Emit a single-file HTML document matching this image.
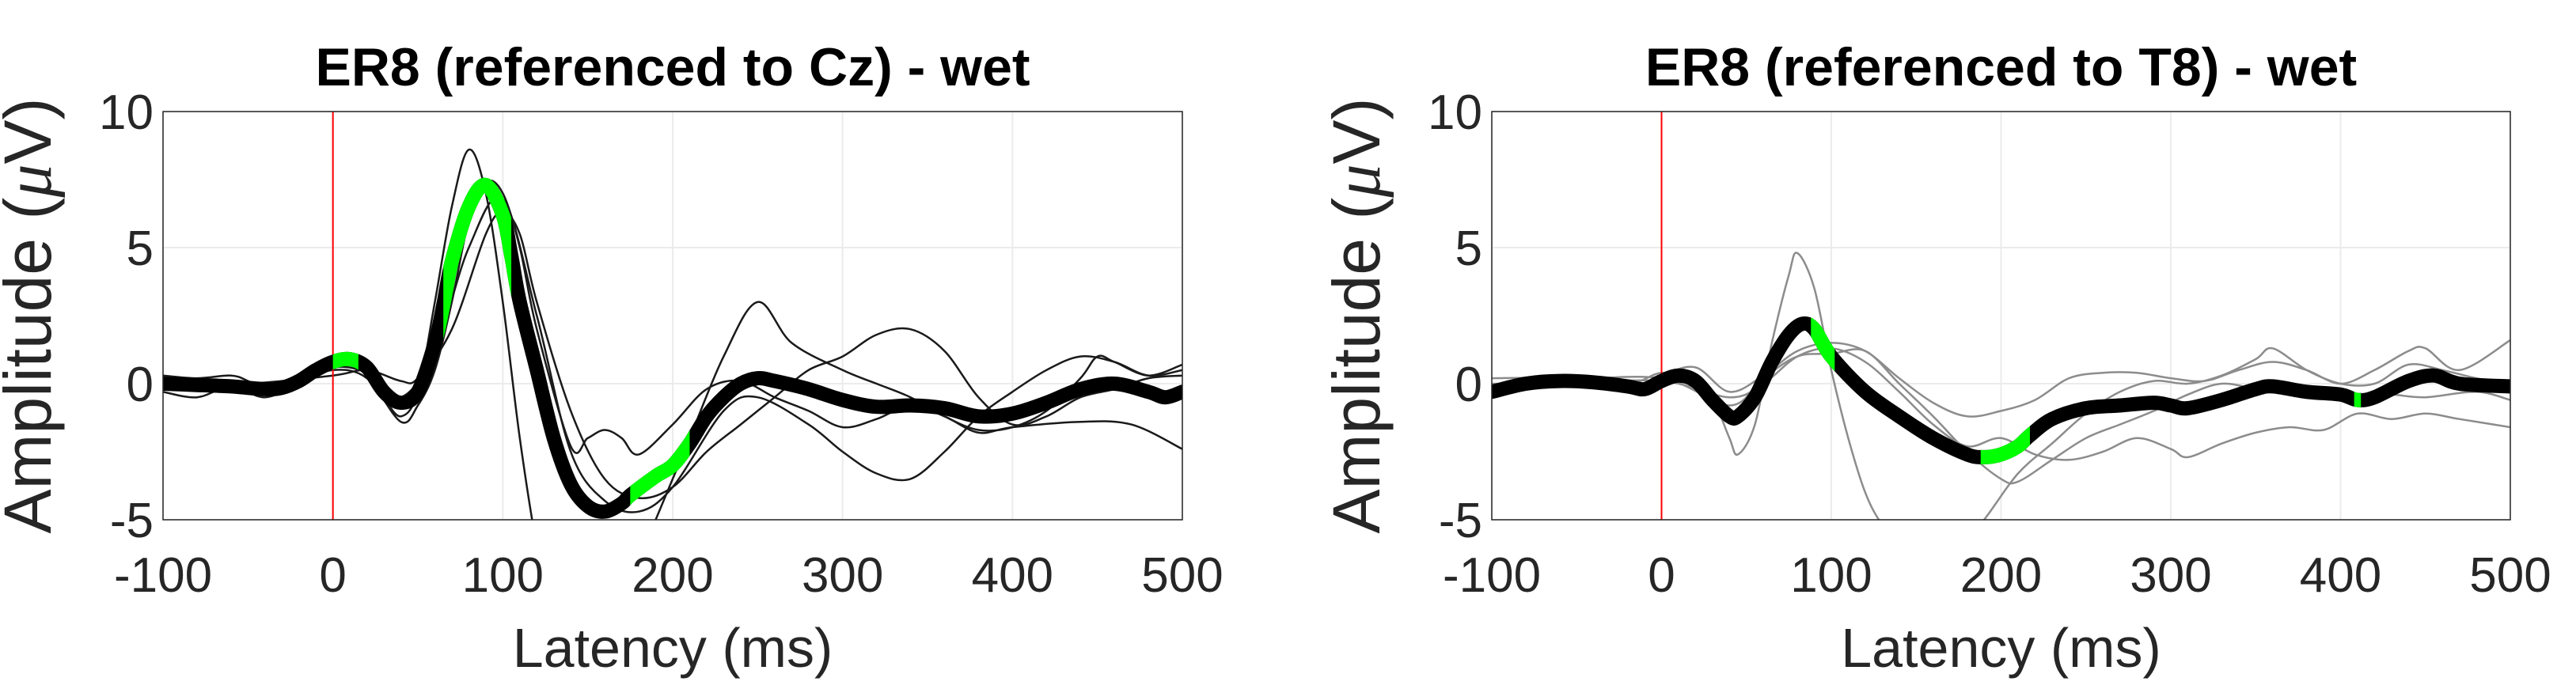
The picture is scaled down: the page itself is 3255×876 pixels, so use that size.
<!DOCTYPE html>
<html><head><meta charset="utf-8"><style>
html,body{margin:0;padding:0;background:#fff}
svg{display:block;font-family:"Liberation Sans",Arial,sans-serif}
</style></head><body>
<svg id="fig" width="3255" height="876" viewBox="0 0 3255 876"></svg>
<script>
// ---- data ----
const xTicks = [-100,0,100,200,300,400,500];
const yTicks = [-5,0,5,10];
const xTickLabels = ["-100","0","100","200","300","400","500"];
const yTickLabels = ["-5","0","5","10"];
// left panel (Cz)
const czMeanX = [-100,-80,-60,-40,-30,-20,-10,0,10,20,30,40,50,60,65,70,80,90,100,105,110,120,130,140,150,160,170,175,190,200,210,220,230,240,250,260,280,300,320,340,360,380,400,420,440,460,480,490,500];
const czMeanY = [0,-0.05,-0.1,-0.2,-0.15,0.1,0.5,0.8,0.9,0.6,-0.3,-0.7,-0.3,1.5,2.9,4.5,6.5,7.3,6.2,4.7,3.0,0.5,-2,-3.7,-4.5,-4.7,-4.4,-4.1,-3.4,-3,-2.2,-1.2,-0.5,0,0.2,0.1,-0.2,-0.6,-0.85,-0.8,-0.9,-1.2,-1.1,-0.7,-0.2,0,-0.3,-0.5,-0.3];
const czGreen = [[0,15],[65,105],[175,210]];
const czT1X = [-100,-80,-60,-50,-40,-20,0,10,20,30,40,50,60,70,80,90,100,110,120,130,150,170,190,210,230,250,270,300,320,340,360,380,400,420,440,450,460,480,500];
const czT1Y = [0.3,0.2,0.3,0.1,-0.2,0,0.7,1,0.6,-0.5,-1.2,-0.3,3,6.5,8.6,7,3,-2,-6,-9,-10,-8,-5,-2,1,3,1.5,0.5,0,-0.5,-1.2,-1.7,-1.6,-1,0.2,1,0.8,0.3,0.7];
const czT2X = [-100,-80,-60,-40,-20,0,20,40,50,60,70,80,90,100,110,120,140,150,160,170,180,200,220,240,260,280,300,320,340,360,380,400,440,470,500];
const czT2Y = [-0.3,-0.5,-0.1,-0.5,0,0.5,0.2,-1.4,-0.8,0.5,3,6,7.4,7,5,2,-2.3,-2,-1.7,-2,-2.6,-1.5,-0.2,0.1,-0.5,-1.0,-1.6,-1.3,-0.8,-1.2,-1.8,-1.6,-1.4,-1.5,-2.4];
const czT3X = [-100,-50,0,20,40,50,70,90,100,110,120,140,160,180,200,220,240,260,280,300,320,340,360,380,400,420,440,460,480,500];
const czT3Y = [0,0,0.3,0.5,0.1,0.2,2,5.5,6.3,5.5,3,-1,-3.5,-4.2,-3.8,-2.5,-1.5,-0.5,0.5,1,1.8,2,1.2,-0.5,-1.5,-1.2,-0.5,-0.2,0.2,0.3];
const czT4X = [-100,-60,-20,0,20,40,60,80,100,120,140,160,180,200,230,250,280,300,320,340,360,380,400,420,440,460,480,500];
const czT4Y = [0.1,-0.1,0,0.6,0.4,-0.5,1.2,5,6.8,2.5,-2.5,-4.3,-4.7,-3.8,-1,-0.5,-1.5,-2.5,-3.3,-3.5,-2.5,-1.2,-0.3,0.5,1,0.8,0.3,0.5];
// right panel (T8)
const t8MeanX = [-100,-80,-60,-40,-20,-10,0,10,20,30,40,45,55,65,75,83,90,100,120,140,160,180,190,200,210,217,230,250,270,290,300,310,330,350,360,380,400,410,420,440,455,470,500];
const t8MeanY = [-0.3,0,0.1,0.05,-0.1,-0.2,0.1,0.3,0.1,-0.6,-1.2,-1.2,-0.5,0.8,1.8,2.2,2.0,1.0,-0.3,-1.2,-2,-2.6,-2.7,-2.6,-2.3,-1.9,-1.3,-0.9,-0.8,-0.7,-0.8,-0.9,-0.6,-0.2,-0.1,-0.3,-0.4,-0.6,-0.5,0.1,0.3,0,-0.1];
const t8Green = [[88,102],[188,217],[408,412]];
const t8T1X = [-100,-60,-20,0,20,30,40,45,55,65,75,80,90,100,110,120,130,150,170,190,210,230,250,270,290,310,330,350,360,380,400,420,440,460,480,500];
const t8T1Y = [0.2,0.2,0,0.4,0.2,-0.5,-2,-2.6,-1.5,1.5,4,4.8,3.5,0.5,-2,-4,-5.2,-7,-6.5,-5,-3.3,-2.2,-1.1,-0.3,0.1,0,0.3,0.9,1.3,0.5,0,0,0.7,0.5,0.2,0];
const t8T2X = [-100,-60,-20,0,20,40,60,80,100,120,140,160,180,200,220,240,260,280,300,320,340,360,380,400,420,440,450,470,500];
const t8T2Y = [-0.5,0,-0.2,0.3,0.6,-0.3,0.3,1.2,1.5,1.2,0.2,-0.7,-1.2,-1.0,-0.6,0.2,0.4,0.4,0.2,0.1,0.5,0.8,0.5,0,0.5,1.2,1.3,0.5,1.6];
const t8T3X = [-100,-60,0,40,60,80,100,120,140,160,180,200,220,240,260,280,300,310,330,350,370,390,410,430,450,470,500];
const t8T3Y = [0,0,0.1,-0.5,0,1.0,1.3,0.8,-0.3,-1.5,-2.3,-2.0,-2.6,-2.8,-2.5,-2.0,-2.4,-2.7,-2.2,-1.8,-1.6,-1.7,-1.1,-1.3,-1.1,-1.3,-1.6];
const t8T4X = [-100,-60,0,40,60,80,100,120,140,160,180,200,210,230,250,270,290,310,330,350,370,390,410,430,450,480,500];
const t8T4Y = [-0.1,0.1,0.2,-0.8,0.2,1.0,1.1,1.2,0,-1.2,-2.5,-3.5,-3.6,-2.8,-2.0,-1.5,-1.0,-0.4,0,-0.2,-0.4,-0.5,-0.4,-0.4,-0.5,-0.3,-0.6];

const NS = "http://www.w3.org/2000/svg";
const svg = document.getElementById('fig');
function mk(tag, attrs, parent){
  const e = document.createElementNS(NS, tag);
  for (const k in attrs) e.setAttribute(k, attrs[k]);
  (parent||svg).appendChild(e);
  return e;
}
function smoothPath(pts){
  let d = "M"+pts[0][0].toFixed(1)+","+pts[0][1].toFixed(1);
  for (let i=0;i<pts.length-1;i++){
    const p0=pts[Math.max(0,i-1)], p1=pts[i], p2=pts[i+1], p3=pts[Math.min(pts.length-1,i+2)];
    const c1x=p1[0]+(p2[0]-p0[0])/6, c1y=p1[1]+(p2[1]-p0[1])/6;
    const c2x=p2[0]-(p3[0]-p1[0])/6, c2y=p2[1]-(p3[1]-p1[1])/6;
    d += "C"+c1x.toFixed(1)+","+c1y.toFixed(1)+" "+c2x.toFixed(1)+","+c2y.toFixed(1)+" "+p2[0].toFixed(1)+","+p2[1].toFixed(1);
  }
  return d;
}
function panel(id, L, R, title, meanX, meanY, green, thin, thinColor){
  const T = 141, B = 657;
  const sx = v => L + (v + 100) / 600 * (R - L);
  const sy = v => T + (10 - v) / 15 * (B - T);
  const g = mk('g', {});
  
  
  const cp = mk('clipPath', {id: id + '-clip'}, g);
  mk('rect', {x: L, y: T, width: R - L, height: B - T}, cp);
  xTicks.forEach((t, i) => {
    const l = mk('line', {x1: sx(t), x2: sx(t), y1: T, y2: B, stroke: '#ebebeb', 'stroke-width': 2}, g);
    
    
    const tx = mk('text', {x: sx(t), y: 748, 'font-size': 62, 'text-anchor': 'middle', fill: '#262626'}, g);
    tx.textContent = xTickLabels[i];
    
    
  });
  yTicks.forEach((t, i) => {
    const l = mk('line', {x1: L, x2: R, y1: sy(t), y2: sy(t), stroke: '#ebebeb', 'stroke-width': 2}, g);
    
    
    const tx = mk('text', {x: L - 12, y: sy(t) + 22, 'font-size': 62, 'text-anchor': 'end', fill: '#262626'}, g);
    tx.textContent = yTickLabels[i];
    
    
  });
  const plot = mk('g', {'clip-path': 'url(#' + id + '-clip)'}, g);
  
  
  thin.forEach((s, k) => {
    const pts = s[0].map((x, i) => [sx(x), sy(s[1][i])]);
    const p = mk('path', {d: smoothPath(pts), fill: 'none', stroke: thinColor, 'stroke-width': 2.5}, plot);
    
    
  });
  const rl = mk('line', {x1: sx(0), x2: sx(0), y1: T, y2: B, stroke: '#ff0000', 'stroke-width': 2}, plot);
  
  
  const mpts = meanX.map((x, i) => [sx(x), sy(meanY[i])]);
  const mp = mk('path', {d: smoothPath(mpts), fill: 'none', stroke: '#000', 'stroke-width': 18, 'stroke-linejoin': 'round', 'stroke-linecap': 'round'}, plot);
  
  
  green.forEach((r, k) => {
    const gc = mk('clipPath', {id: id + '-gclip' + k}, g);
    mk('rect', {x: sx(r[0]), y: 0, width: sx(r[1]) - sx(r[0]), height: 876}, gc);
    const gw = mk('g', {'clip-path': 'url(#' + id + '-gclip' + k + ')'}, plot);
    const gp = mk('path', {d: smoothPath(mpts), fill: 'none', stroke: '#00ff00', 'stroke-width': 18, 'stroke-linejoin': 'round'}, gw);
    
    
  });
  const box = mk('rect', {x: L, y: T, width: R - L, height: B - T, fill: 'none', stroke: '#262626', 'stroke-width': 1.5}, g);
  
  
  const tt = mk('text', {x: (L + R) / 2, y: 108, 'font-size': 68, 'font-weight': 'bold', 'text-anchor': 'middle', fill: '#000'}, g);
  tt.textContent = title;
  
  
  const xl = mk('text', {x: (L + R) / 2, y: 843, 'font-size': 70, 'text-anchor': 'middle', fill: '#262626'}, g);
  xl.textContent = 'Latency (ms)';
  
  
  const ylx = L - 142;
  const yl = mk('text', {x: 0, y: 0, 'font-size': 84, 'text-anchor': 'middle', fill: '#262626', transform: 'translate(' + ylx + ',' + ((T + B) / 2) + ') rotate(-90)'}, g);
  yl.innerHTML = 'Amplitude (<tspan font-style="italic" font-family="Liberation Serif, serif">μ</tspan>V)';
  
  
}
panel('cz', 206, 1494, 'ER8 (referenced to Cz) - wet', czMeanX, czMeanY, czGreen,
  [[czT1X, czT1Y], [czT2X, czT2Y], [czT3X, czT3Y], [czT4X, czT4Y]], '#1a1a1a');
panel('t8', 1885, 3172, 'ER8 (referenced to T8) - wet', t8MeanX, t8MeanY, t8Green,
  [[t8T1X, t8T1Y], [t8T2X, t8T2Y], [t8T3X, t8T3Y], [t8T4X, t8T4Y]], '#8c8c8c');
</script>
</body></html>
